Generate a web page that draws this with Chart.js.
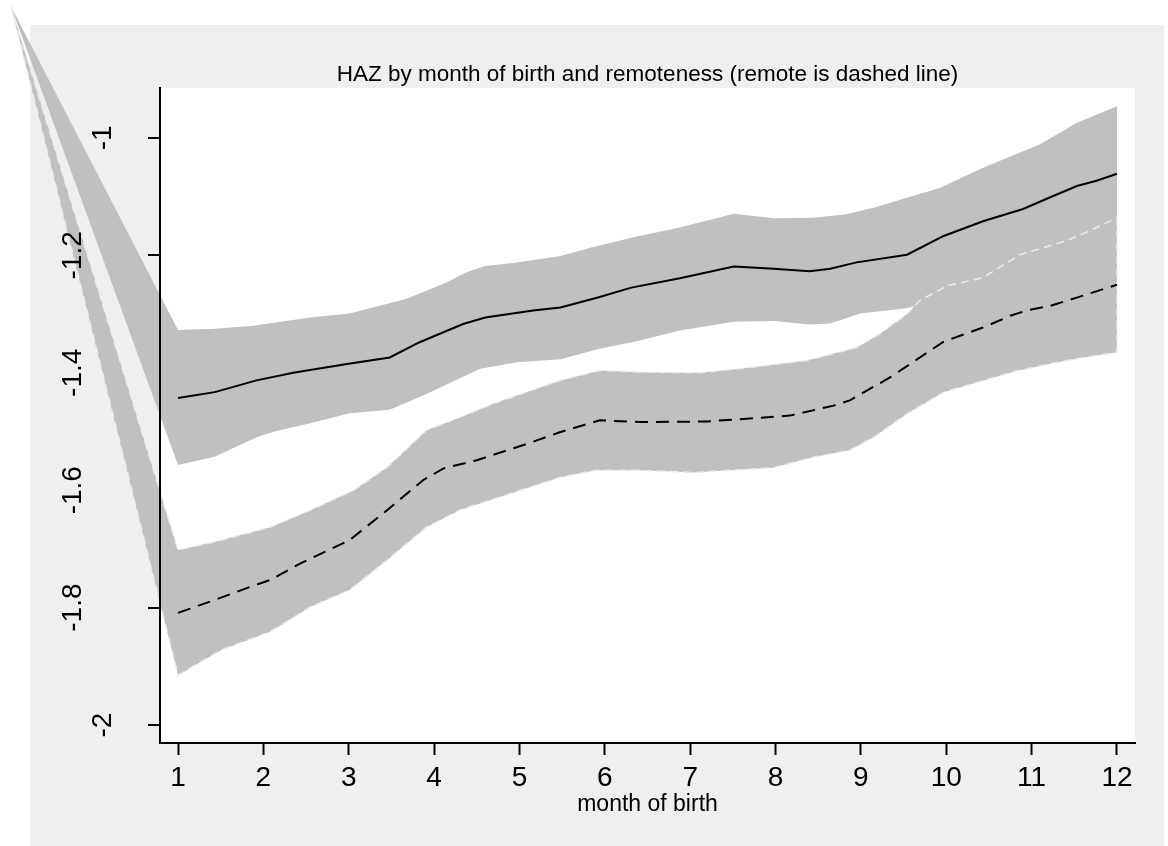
<!DOCTYPE html>
<html>
<head>
<meta charset="utf-8">
<script src="https://cdn.jsdelivr.net/npm/chart.js@4.4.1/dist/chart.umd.min.js"></script>
<style>
  html, body { margin: 0; padding: 0; background: #fff; }
  #wrap { position: relative; width: 1168px; height: 846px; }
  #bg { position: absolute; left: 30px; top: 25px; width: 1134px; height: 821px; background: #efefef; }
  #c { position: absolute; left: 0; top: 0; }
</style>
</head>
<body>
<div id="wrap"><div id="bg"></div><canvas id="c" width="1168" height="846"></canvas></div>
<script>
// HAZ by month of birth, smoothed, with 95% bands
const xTicks = [1, 2, 3, 4, 5, 6, 7, 8, 9, 10, 11, 12];
const yTicks = [-2, -1.8, -1.6, -1.4, -1.2, -1];

// the odd stata polygon origin both bands start from
const bandOrigin = [-0.956, -0.776];

// not remote (solid)
const nearLine = [[1.00,-1.443],[1.43,-1.433],[1.92,-1.413],[2.35,-1.400],[2.98,-1.385],[3.48,-1.374],[3.83,-1.348],[4.34,-1.317],[4.60,-1.306],[5.16,-1.294],[5.48,-1.289],[5.94,-1.271],[6.31,-1.255],[6.88,-1.239],[7.51,-1.219],[7.98,-1.223],[8.40,-1.227],[8.64,-1.223],[8.95,-1.212],[9.54,-1.199],[9.97,-1.167],[10.43,-1.142],[10.90,-1.121],[11.17,-1.104],[11.53,-1.082],[11.76,-1.073],[12.00,-1.061]];
const nearHi = [[1.00,-1.327],[1.43,-1.325],[1.88,-1.320],[2.55,-1.306],[3.01,-1.299],[3.68,-1.274],[4.15,-1.246],[4.38,-1.229],[4.60,-1.218],[4.97,-1.212],[5.48,-1.201],[5.83,-1.187],[6.37,-1.168],[6.80,-1.155],[7.27,-1.138],[7.51,-1.129],[7.98,-1.137],[8.44,-1.136],[8.83,-1.130],[9.15,-1.119],[9.54,-1.102],[9.93,-1.085],[10.43,-1.051],[11.10,-1.011],[11.53,-0.974],[12.00,-0.946]];
const nearLo = [[1.00,-1.557],[1.43,-1.543],[1.92,-1.510],[2.15,-1.499],[2.55,-1.486],[3.01,-1.469],[3.48,-1.463],[3.91,-1.436],[4.54,-1.393],[4.97,-1.382],[5.48,-1.377],[5.94,-1.359],[6.41,-1.345],[6.88,-1.328],[7.51,-1.313],[7.98,-1.312],[8.40,-1.318],[8.64,-1.316],[8.99,-1.299],[9.54,-1.290],[10.00,-1.270],[10.50,-1.245],[11.00,-1.220],[11.50,-1.190],[12.00,-1.165]];

// remote (dashed)
const farLine = [[1.00,-1.809],[1.43,-1.787],[1.84,-1.765],[2.08,-1.753],[2.43,-1.725],[3.01,-1.685],[3.45,-1.634],[3.87,-1.583],[4.11,-1.563],[4.50,-1.549],[5.09,-1.521],[5.48,-1.501],[5.94,-1.481],[6.41,-1.484],[7.19,-1.483],[7.78,-1.477],[8.17,-1.473],[8.68,-1.456],[8.87,-1.447],[9.34,-1.408],[9.69,-1.374],[9.97,-1.347],[10.43,-1.323],[10.75,-1.303],[10.94,-1.294],[11.22,-1.286],[11.53,-1.272],[12.00,-1.250]];
const farHi = [[1.00,-1.702],[1.43,-1.688],[2.08,-1.663],[2.55,-1.634],[3.06,-1.600],[3.45,-1.561],[3.91,-1.498],[4.30,-1.476],[4.69,-1.453],[5.24,-1.425],[5.48,-1.413],[5.94,-1.396],[6.41,-1.399],[7.12,-1.400],[7.58,-1.393],[8.37,-1.379],[8.95,-1.357],[9.22,-1.334],[9.54,-1.300],[9.69,-1.277],[10.01,-1.252],[10.43,-1.238],[10.86,-1.199],[11.41,-1.175],[11.64,-1.161],[12.00,-1.136]];
const farLo = [[1.00,-1.915],[1.51,-1.872],[2.08,-1.841],[2.55,-1.799],[3.01,-1.770],[3.45,-1.719],[3.91,-1.663],[4.30,-1.634],[4.89,-1.606],[5.48,-1.578],[5.90,-1.566],[6.41,-1.566],[7.04,-1.570],[7.58,-1.565],[7.97,-1.562],[8.44,-1.544],[8.87,-1.532],[9.15,-1.510],[9.54,-1.470],[9.97,-1.433],[10.82,-1.397],[11.41,-1.379],[12.00,-1.365]];

const FONT = "'Liberation Sans', Arial, Helvetica, sans-serif";
const pts = a => a.map(([x, y]) => ({ x, y }));
const band = (hi, lo) => pts([bandOrigin, ...hi, ...lo.slice().reverse(), bandOrigin]);

// white plot region + band polygons (not clipped, like the original)
const plotBg = {
  id: 'plotBg',
  beforeDatasetsDraw(chart) {
    const { ctx, chartArea: a } = chart;
    ctx.save(); ctx.fillStyle = '#fff';
    ctx.fillRect(a.left, a.top, a.right - a.left, a.bottom - a.top);
    ctx.restore();
  },
  beforeDatasetDraw(chart, args) {
    const ds = chart.data.datasets[args.index];
    if (!ds.bandColor) return;
    const ctx = chart.ctx, d = args.meta.data;
    ctx.save(); ctx.beginPath();
    d.forEach((p, i) => i ? ctx.lineTo(p.x, p.y) : ctx.moveTo(p.x, p.y));
    ctx.closePath(); ctx.fillStyle = ds.bandColor; ctx.fill(); ctx.restore();
  }
};

new Chart(document.getElementById('c'), {
  type: 'line',
  data: {
    datasets: [
      { data: band(nearHi, nearLo), bandColor: '#c0c0c0', showLine: false, pointRadius: 0, clip: false, order: 4 },
      { data: band(farHi, farLo), bandColor: '#c0c0c0', borderColor: '#ebebeb', borderWidth: 1.5, borderDash: [8, 5], pointRadius: 0, clip: false, order: 3 },
      { data: pts(farLine), borderColor: '#000', borderWidth: 2, borderDash: [13, 8], pointRadius: 0, order: 2 },
      { data: pts(nearLine), borderColor: '#000', borderWidth: 2, pointRadius: 0, order: 1 }
    ]
  },
  options: {
    responsive: false, animation: false, devicePixelRatio: 1,
    layout: { padding: { left: 0, right: 33, top: 0, bottom: 0 } },
    plugins: {
      legend: { display: false }, tooltip: { enabled: false },
      title: { display: true, fullSize: false, text: 'HAZ by month of birth and remoteness (remote is dashed line)',
        color: '#000', font: { family: FONT, size: 22.5, weight: 'normal' }, padding: { top: 61, bottom: 0 } }
    },
    scales: {
      x: {
        type: 'linear', min: 0.789, max: 12.211,
        afterBuildTicks: s => { s.ticks = xTicks.map(v => ({ value: v })); },
        afterFit: s => { s.height = 103; },
        grid: { drawOnChartArea: false, tickLength: 12, tickColor: '#000', tickWidth: 2 },
        border: { color: '#000', width: 2, z: 1 },
        ticks: { color: '#000', padding: 6, maxRotation: 0, font: { family: FONT, size: 28 }, callback: v => String(v), z: 1 },
        title: { display: true, text: 'month of birth', color: '#000', font: { family: FONT, size: 23 }, padding: { top: 0, bottom: 28 } }
      },
      y: {
        type: 'linear', min: -2.0306, max: -0.915,
        afterBuildTicks: s => { s.ticks = yTicks.map(v => ({ value: v })); },
        afterFit: s => { s.width = 160; s.paddingTop = 0; s.paddingBottom = 0; },
        grid: { color: '#e6e6e6', lineWidth: 2, tickLength: 12, tickColor: '#000', tickWidth: 2 },
        border: { color: '#000', width: 2, z: 1 },
        ticks: { color: '#000', padding: 51, minRotation: 90, maxRotation: 90, crossAlign: 'center', z: 1,
          font: { family: FONT, size: 28, lineHeight: 1.07 },
          callback: v => Number.isInteger(v) ? ['', '', String(v)] : String(v) }
      }
    }
  },
  plugins: [plotBg]
});
</script>
</body>
</html>
